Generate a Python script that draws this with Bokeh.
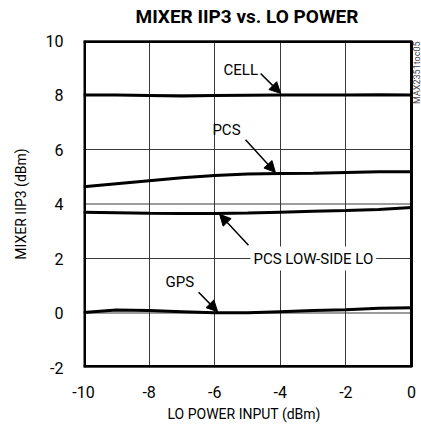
from bokeh.plotting import figure
from bokeh.models import Label, Arrow, NormalHead, FixedTicker, Title
from bokeh.embed import file_html
from bokeh.resources import INLINE

lo_power = [-10, -9, -8, -7, -6, -5, -4, -3, -2, -1, 0]
cell = [8.00, 8.00, 7.98, 7.96, 7.98, 7.99, 8.00, 8.00, 8.00, 8.01, 8.00]
pcs = [4.63, 4.74, 4.85, 4.96, 5.05, 5.10, 5.12, 5.13, 5.16, 5.18, 5.18]
pcs_low = [3.70, 3.68, 3.66, 3.65, 3.65, 3.67, 3.70, 3.73, 3.76, 3.80, 3.87]
gps = [0.02, 0.11, 0.09, 0.05, 0.01, 0.01, 0.05, 0.09, 0.12, 0.17, 0.19]

x_ticks = [-10, -8, -6, -4, -2, 0]
x_tick_labels = ["-10", "-8", "-6", "-4", "-2", "0"]
y_ticks = [-2, 0, 2, 4, 6, 8, 10]
y_tick_labels = ["-2", "0", "2", "4", "6", "8", "10"]

TITLE = "MIXER IIP3 vs. LO POWER"
X_LABEL = "LO POWER INPUT (dBm)"
Y_LABEL = "MIXER IIP3 (dBm)"
FIG_ID = "MAX2351toc05"
FONT = "Roboto"

X_MIN, X_MAX, Y_MIN, Y_MAX = -10, 0, -2, 10
X_PAD = 0.305  # room right of the frame for the rotated figure id

p = figure(width=421, height=432, x_range=(X_MIN, X_MAX + X_PAD), y_range=(Y_MIN, Y_MAX),
           output_backend="svg", toolbar_location=None)
p.min_border_left = 83
p.min_border_right = 0
p.min_border_top = 40
p.min_border_bottom = 65
p.outline_line_color = None

# small spacer between frame and title, then the title itself
p.add_layout(Title(text=" ", text_font=FONT, text_font_size="5px", standoff=2), "above")
p.add_layout(Title(text=TITLE, align="left", offset=52, text_font=FONT,
                   text_font_size="19px", text_font_style="bold", text_color="black",
                   vertical_align="top", standoff=2), "above")

for ax in (p.xaxis[0], p.yaxis[0]):
    ax.axis_line_color = None
    ax.major_tick_line_color = None
    ax.minor_tick_line_color = None
    ax.major_label_text_font = FONT
    ax.major_label_text_font_size = "16px"
    ax.major_label_text_color = "black"
    ax.axis_label_text_font = FONT
    ax.axis_label_text_font_size = "14px"
    ax.axis_label_text_font_style = "normal"
    ax.axis_label_text_color = "black"

p.xaxis.ticker = FixedTicker(ticks=x_ticks)
p.yaxis.ticker = FixedTicker(ticks=y_ticks)
p.xaxis.major_label_overrides = dict(zip(x_ticks, x_tick_labels))
p.yaxis.major_label_overrides = dict(zip(y_ticks, y_tick_labels))
p.yaxis.axis_label = Y_LABEL
p.xaxis.major_label_standoff = 12
p.yaxis.major_label_standoff = 14
p.yaxis.axis_label_standoff = 14

p.add_layout(Title(text=X_LABEL, align="left", offset=84, text_font=FONT,
                   text_font_size="14px", text_font_style="normal",
                   text_color="black", standoff=6), "below")

p.xgrid.ticker = FixedTicker(ticks=x_ticks)
p.xgrid.grid_line_color = "#3a3a3a"
p.xgrid.grid_line_width = 1
p.ygrid.visible = False
# horizontal grid lines only across the data frame
p.segment(x0=[X_MIN] * len(y_ticks), x1=[X_MAX] * len(y_ticks), y0=y_ticks, y1=y_ticks,
          line_color="#3a3a3a", line_width=1)

# thick frame border (outer edges are half clipped by the frame, so drawn wider)
p.segment(x0=[X_MIN, X_MIN, X_MIN], x1=[X_MIN, X_MAX, X_MAX],
          y0=[Y_MIN, Y_MAX, Y_MIN], y1=[Y_MAX, Y_MAX, Y_MIN],
          line_color="black", line_width=5)
p.segment(x0=[X_MAX], x1=[X_MAX], y0=[Y_MIN], y1=[Y_MAX],
          line_color="black", line_width=3)

for series in (cell, pcs, pcs_low, gps):
    p.line(lo_power, series, line_color="black", line_width=3)

def add_label(x, y, text, bg=None):
    lab = Label(x=x, y=y, text=text, text_font=FONT, text_font_size="15px",
                text_color="black", text_baseline="middle", text_align="left")
    if bg:
        lab.background_fill_color = bg
        lab.background_fill_alpha = 1
        lab.border_line_color = None
        lab.padding = 3
    p.add_layout(lab)

def add_arrow(x0, y0, x1, y1):
    p.add_layout(Arrow(end=NormalHead(size=11, fill_color="black", line_color="black"),
                       x_start=x0, y_start=y0, x_end=x1, y_end=y1,
                       line_color="black", line_width=1.5))

add_label(-5.73, 8.93, "CELL")
add_arrow(-4.6, 8.79, -3.99, 8.06)
add_label(-6.07, 6.72, "PCS")
add_arrow(-5.06, 6.36, -4.15, 5.16)
add_label(-4.91, 2.0, "PCS LOW-SIDE LO", bg="white")
add_arrow(-4.97, 2.49, -5.85, 3.62)
add_label(-7.5, 1.14, "GPS")
add_arrow(-6.49, 0.76, -5.91, 0.05)

# figure id, rotated at the upper right
p.add_layout(Label(x=X_MAX, y=Y_MAX, x_offset=6, y_offset=-1,
                   text=FIG_ID, angle=1.5708, text_font=FONT,
                   text_font_size="9px", text_color="#444",
                   text_align="right", text_baseline="middle"))

open("out.html", "w").write(file_html(p, INLINE))
